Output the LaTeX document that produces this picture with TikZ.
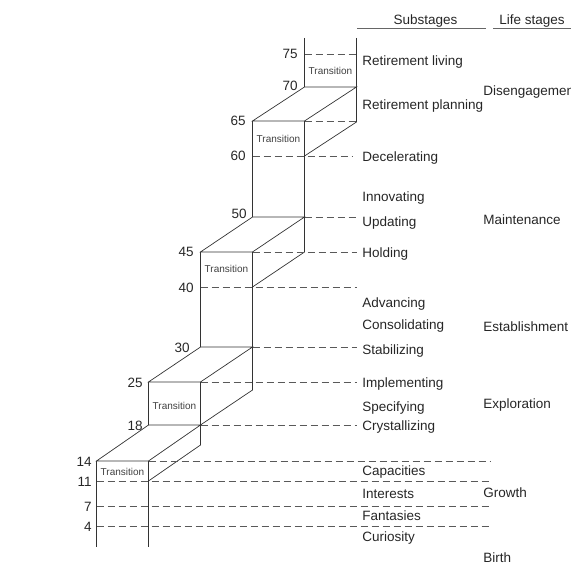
\documentclass[tikz,border=0pt]{standalone}
\usepackage{fontspec}
\setmainfont{Liberation Sans}

\begin{document}
\begin{tikzpicture}[x=1pt,y=-1pt,line width=0.7pt,
                    edge/.style={draw=black!80},
                    level/.style={draw=black!65,dash pattern=on 7pt off 4pt},
                    label text/.style={inner sep=0pt,text height=10pt,text depth=0pt,
                                       font=\fontsize{13.5}{16}\selectfont,text=black!85},
                    age/.style={label text,anchor=east},
                    sub/.style={label text,anchor=west},
                    trans/.style={inner sep=0pt,text height=7.2pt,text depth=0pt,
                                  font=\fontsize{10}{12}\selectfont,text=black!75}]

  \useasboundingbox (0,0) rectangle (571,567);

  % header
  \node[label text] (subhead) at (425.5,20) {Substages};
  \node[label text] (lifehead) at (532,20) {Life stages};
  \draw[black!60] (357,28.5) -- (486,28.5) (493,28.5) -- (571,28.5);

  % the steps: left x / top y / bottom y / back y
  \foreach \cx/\ty/\by/\ny in {96.5/461/481/425,148.5/382/425/347,
                               200.5/252/287/217,252.5/121/156/87}{
    \draw[edge] (\cx,\ty) -- (\cx+52,\ty) -- (\cx+104,\ny) -- (\cx+52,\ny) -- cycle;
    \draw[edge] (\cx,\ty) -- (\cx,\by) (\cx+52,\ty) -- (\cx+52,\by)
                -- (\cx+104,\by-\ty+\ny) -- (\cx+104,\ny);
  }
  \draw[edge] (96.5,481) -- (96.5,547) (148.5,481) -- (148.5,547)
              (200.5,287) -- (200.5,347) (252.5,287) -- (252.5,347)
              (252.5,156) -- (252.5,217) (304.5,156) -- (304.5,217)
              (304.5,38) -- (304.5,87) (356.5,38) -- (356.5,87);

  % age levels
  \foreach \xa/\xb/\ly in {304.5/356.5/54,304.5/356.5/121,252.5/352/156,
                           304.5/356/217,252.5/357/252,200.5/357/287,
                           252.5/357/347,200.5/357/382,200.5/357/425,
                           148.5/491/461,96.5/491/481,96.5/491/506,96.5/491/526}
    \draw[level] (\xa,\ly) -- (\xb,\ly);

  \foreach \a/\ax/\ay in {75/298/54,70/298/86,65/246/121,60/246/156,50/247/214,
                          45/194/252,40/194/287,30/190/347,25/143/382,18/143/425,
                          14/92/461,11/92/481,7/92/506,4/92/526}
    \node[age] (a\a) at (\ax,\ay) {\a};

  \foreach \tx/\ty [count=\i] in {122.5/472,174.5/406,226.5/269,278.5/139,330.5/71}
    \node[trans] (t\i) at (\tx,\ty) {Transition};

  % substages
  \foreach \sy/\s [count=\i] in {61/Retirement living,105/Retirement planning,
                                 157/Decelerating,197/Innovating,222/Updating,
                                 253/Holding,302/Advancing,324/Consolidating,
                                 349/Stabilizing,382/Implementing,406/Specifying,
                                 425/Crystallizing,470/Capacities,493/Interests,
                                 515/Fantasies,536/Curiosity}
    \node[sub] (s\i) at (362,\sy) {\s};

  % life stages
  \foreach \sy/\s in {91/Disengagement,220/Maintenance,326/Establishment,
                      403/Exploration,492/Growth,557/Birth}
    \node[sub] (\s) at (483,\sy) {\s};
\end{tikzpicture}
\end{document}
